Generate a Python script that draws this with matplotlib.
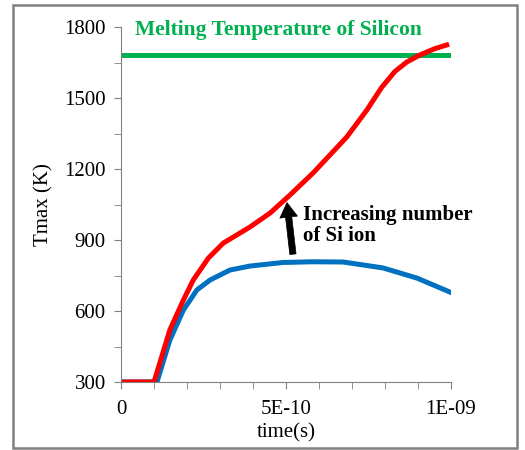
import matplotlib.pyplot as plt
from matplotlib.patches import Rectangle

# data (time in units of 1e-9 s, temperature in K)
red_t = [0, 0.10, 0.148, 0.189, 0.219, 0.265, 0.310, 0.391, 0.452, 0.512,
         0.582, 0.684, 0.745, 0.790, 0.830, 0.866, 0.906, 0.950, 0.987]
red_T = [300, 300, 520, 646, 731, 824, 887, 955, 1014, 1090,
         1183, 1335, 1449, 1545, 1612, 1652, 1682, 1708, 1724]
blue_t = [0, 0.109, 0.148, 0.189, 0.230, 0.270, 0.330, 0.391, 0.491,
          0.580, 0.673, 0.794, 0.897, 1.0]
blue_T = [300, 300, 477, 604, 689, 731, 773, 790, 805,
          808, 807, 782, 739, 678]
melt_T = 1683

plt.rcParams["font.family"] = ["Liberation Serif", "DejaVu Serif"]

fig = plt.figure(figsize=(5.25, 4.5), dpi=100)
fig.patches.append(Rectangle((13 / 525, 2 / 450), 504 / 525, 443 / 450,
                             transform=fig.transFigure, fill=False,
                             edgecolor="#808080", linewidth=1.8))
ax = fig.add_axes([121 / 525, 68 / 450, 330 / 525, 355 / 450])

scale = 1e-9
ax.plot([0, 1e-9], [melt_T, melt_T], color="#00B050", linewidth=3.6,
        solid_capstyle="butt")
ax.plot([t * scale for t in blue_t], blue_T, color="#0070C0", linewidth=3.6,
        solid_joinstyle="round")
ax.plot([t * scale for t in red_t], red_T, color="#FF0000", linewidth=3.6,
        solid_joinstyle="round")

ax.set_xlim(0, 1e-9)
ax.set_ylim(300, 1800)
ax.set_xticks([0, 5e-10, 1e-9])
ax.set_xticklabels(["0", "5E-10", "1E-09"])
ax.set_xticks([i * 1e-10 for i in range(11)], minor=True)
ax.set_yticks(range(300, 1801, 300))
ax.set_yticks(range(300, 1801, 150), minor=True)
ax.tick_params(axis="both", which="both", color="#808080", direction="out")
ax.tick_params(axis="both", which="major", labelsize=15, length=5)
ax.tick_params(axis="both", which="minor", length=5)
ax.tick_params(axis="x", pad=8)
ax.tick_params(axis="y", pad=6)

for side in ("top", "right"):
    ax.spines[side].set_visible(False)
for side in ("left", "bottom"):
    ax.spines[side].set_color("#808080")

ax.set_xlabel("time(s)", fontsize=15, labelpad=3)
ax.set_ylabel("Tmax (K)", fontsize=15, labelpad=8)

ax.text(0.042e-9, 1787, "Melting Temperature of Silicon", color="#00B050",
        fontsize=15.5, fontweight="bold", va="center", ha="left")
ax.annotate("", xy=(0.503e-9, 1058), xytext=(0.521e-9, 840),
            arrowprops=dict(arrowstyle="simple,head_length=0.7,head_width=0.85,tail_width=0.3",
                            fc="black", ec="black", lw=0.5, mutation_scale=15,
                            shrinkA=0, shrinkB=0))
ax.text(0.552e-9, 962, "Increasing number\nof Si ion", fontsize=15,
        fontweight="bold", va="center", ha="left", linespacing=1.1)

fig.savefig("out.png", dpi=100)
